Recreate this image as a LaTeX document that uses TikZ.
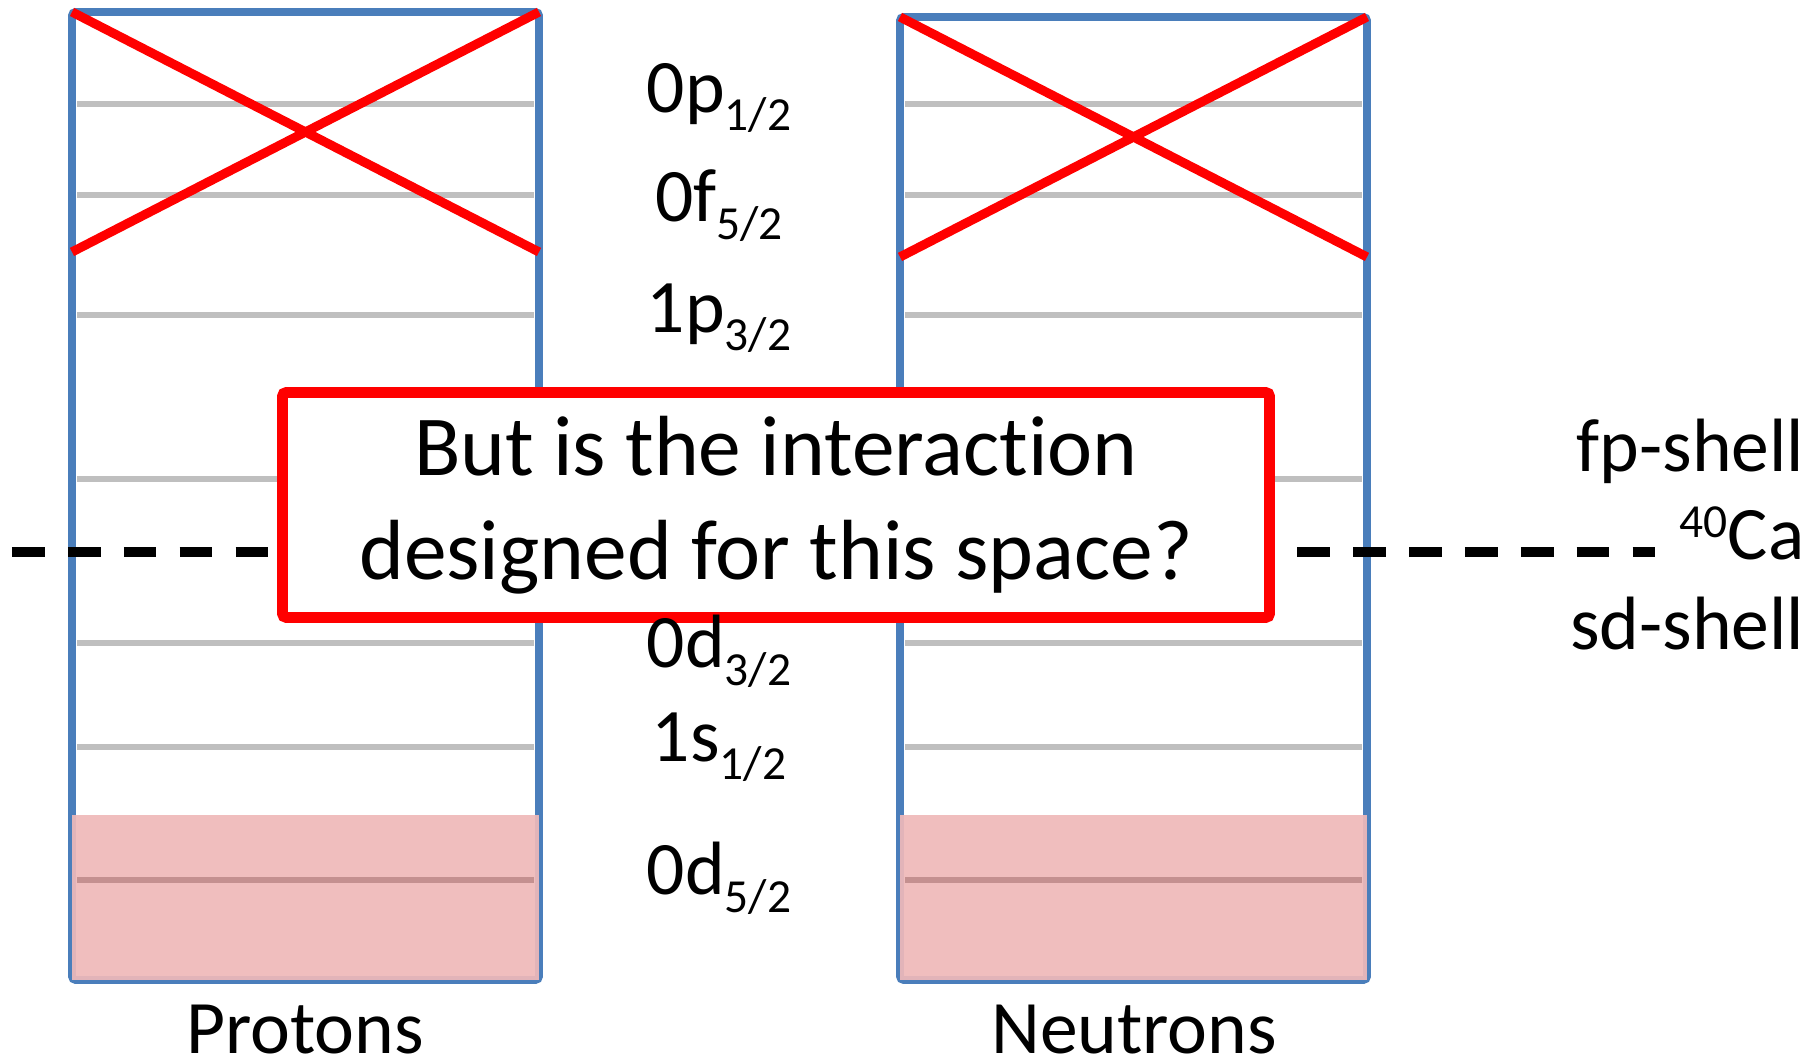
\documentclass[tikz,border=0pt]{standalone}
\usepackage{fontspec}
\setmainfont{Carlito}[Ligatures=NoCommon]
\definecolor{shellblue}{RGB}{74,126,187}
\definecolor{levelgray}{RGB}{191,191,191}
\definecolor{fillpink}{RGB}{239,185,185}
\definecolor{levelpink}{RGB}{196,144,144}
\definecolor{crossred}{RGB}{255,0,0}
\newcommand{\jsub}[1]{\raisebox{-5pt}{\fontsize{13.5}{14}\selectfont #1}}
\newcommand{\isosup}[1]{\raisebox{6.5pt}{\fontsize{13.5}{14}\selectfont #1}}

\begin{document}
\begin{tikzpicture}[
  shellbox/.style={draw=shellblue, line width=2.2pt, rounded corners=1pt},
  level/.style={draw=levelgray, line width=1.5pt},
  filled/.style={fill=fillpink, fill opacity=0.92},
  cross/.style={draw=crossred, line width=2.6pt},
  cut/.style={draw=black, line width=2.6pt, dash pattern=on 9.3pt off 6.6pt},
  lbl/.style={anchor=base, font=\fontsize{21.5}{26}\selectfont, inner sep=0pt},
  question/.style={draw=crossred, line width=3pt, fill=white, rounded corners=1pt, minimum width=9.87cm, minimum height=2.25cm, align=center, font=\fontsize{24.3}{29.5}\selectfont}
]
\useasboundingbox (0,0) rectangle (18.18,10.63);

% proton box
\draw[shellbox] (0.72,0.83) rectangle (5.39,10.51);
\draw[level] (0.77,9.59) -- (5.34,9.59);
\draw[level] (0.77,8.68) -- (5.34,8.68);
\draw[level] (0.77,7.48) -- (5.34,7.48);
\draw[level] (0.77,5.84) -- (5.34,5.84);
\draw[level] (0.77,4.20) -- (5.34,4.20);
\draw[level] (0.77,3.16) -- (5.34,3.16);
\fill[filled] (0.72,0.83) rectangle (5.39,2.48);
\draw[draw=levelpink, line width=1.6pt] (0.77,1.83) -- (5.34,1.83);
\draw[cross] (0.72,10.51) -- (5.39,8.11);
\draw[cross] (0.72,8.11) -- (5.39,10.51);

% neutron box
\draw[shellbox] (9.00,0.83) rectangle (13.67,10.46);
\draw[level] (9.05,9.59) -- (13.62,9.59);
\draw[level] (9.05,8.68) -- (13.62,8.68);
\draw[level] (9.05,7.48) -- (13.62,7.48);
\draw[level] (9.05,5.84) -- (13.62,5.84);
\draw[level] (9.05,4.20) -- (13.62,4.20);
\draw[level] (9.05,3.16) -- (13.62,3.16);
\fill[filled] (9.00,0.83) rectangle (13.67,2.48);
\draw[draw=levelpink, line width=1.6pt] (9.05,1.83) -- (13.62,1.83);
\draw[cross] (9.00,10.46) -- (13.67,8.06);
\draw[cross] (9.00,8.06) -- (13.67,10.46);

% N=20 gap
\coordinate (cutL) at (0.12,5.11);
\coordinate (cutR) at (16.55,5.11);
\draw[cut] (cutL) -- (cutR);

\node[question] (ask) at (7.76,5.58) {But is the interaction\\designed for this space?};

% orbitals
\node[lbl] (p12) at (7.19,9.50) {0p\jsub{1/2}};
\node[lbl] (f52) at (7.19,8.41) {0f\jsub{5/2}};
\node[lbl] (p32) at (7.19,7.30) {1p\jsub{3/2}};
\node[lbl] (d32) at (7.19,3.95) {0d\jsub{3/2}};
\node[lbl] (s12) at (7.19,3.01) {1s\jsub{1/2}};
\node[lbl] (d52) at (7.19,1.68) {0d\jsub{5/2}};

\node[lbl, anchor=base east] (fp) at (18.05,5.91) {fp-shell};
\node[lbl, anchor=base east] (ca) at (18.05,5.03) {\isosup{40}Ca};
\node[lbl, anchor=base east] (sd) at (18.05,4.13) {sd-shell};

\node[lbl] (prot) at (3.05,0.09) {Protons};
\node[lbl] (neut) at (11.34,0.09) {Neutrons};
\end{tikzpicture}
\end{document}
